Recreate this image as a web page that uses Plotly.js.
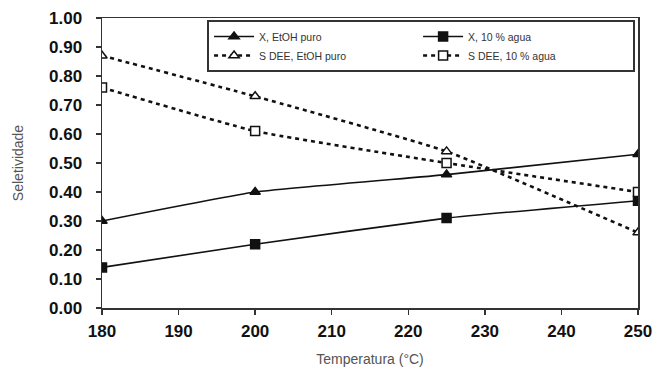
<!DOCTYPE html>
<html>
<head>
<meta charset="utf-8">
<script src="https://cdn.plot.ly/plotly-3.0.1.min.js"></script>
<style>html,body{margin:0;padding:0;background:#fff;}#chart{width:660px;height:372px;}</style>
</head>
<body>
<div id="chart"></div>
<script>
var temperatura = [180, 200, 225, 250];
var xEtohPuro = [0.30, 0.40, 0.46, 0.53];
var x10Agua = [0.14, 0.22, 0.31, 0.37];
var sDeeEtohPuro = [0.87, 0.73, 0.54, 0.26];
var sDee10Agua = [0.76, 0.61, 0.50, 0.40];
var seriesNames = ["X, EtOH puro", "X, 10 % agua", "S DEE, EtOH puro", "S DEE, 10 % agua"];
var xTicks = [180, 190, 200, 210, 220, 230, 240, 250];
var yTicks = [0, 0.1, 0.2, 0.3, 0.4, 0.5, 0.6, 0.7, 0.8, 0.9, 1.0];

function tr(y, name, dashed, symbol, filled) {
  return {
    x: temperatura, y: y, name: name, type: 'scatter', mode: 'lines+markers',
    line: {color: '#111', width: dashed ? 2.6 : 1.6, dash: dashed ? '4px,4px' : 'solid', shape: 'spline', smoothing: 0.4},
    marker: {symbol: symbol, size: 9, color: filled ? '#111' : '#fff',
             line: {color: '#111', width: 1.5}}
  };
}
var data = [
  tr(xEtohPuro, seriesNames[0], false, 'triangle-up', true),
  tr(x10Agua, seriesNames[1], false, 'square', true),
  tr(sDeeEtohPuro, seriesNames[2], true, 'triangle-up', false),
  tr(sDee10Agua, seriesNames[3], true, 'square', false)
];
var tickFont = {size: 17, family: 'Liberation Sans, Arial, sans-serif', color: '#111', weight: 'bold'};
var layout = {
  width: 660, height: 372,
  margin: {l: 102, r: 22, t: 18, b: 64},
  paper_bgcolor: '#fff', plot_bgcolor: '#fff',
  font: {family: 'Liberation Sans, Arial, sans-serif', color: '#111'},
  showlegend: true,
  legend: {
    orientation: 'h', x: 0.196, y: 0.993, xanchor: 'left', yanchor: 'top',
    entrywidth: 0.39, entrywidthmode: 'fraction',
    bgcolor: '#fff', bordercolor: '#333', borderwidth: 2,
    font: {size: 10.5, color: '#333'}, traceorder: 'normal',
    tracegroupgap: 0, itemwidth: 40
  },
  xaxis: {
    range: [180, 250], tickvals: xTicks, ticktext: xTicks.map(String),
    showgrid: false, zeroline: false, showline: true, linecolor: '#333', linewidth: 1.5,
    mirror: true, ticks: 'outside', ticklen: 5, tickcolor: '#333', tickwidth: 1.5,
    ticklabelstandoff: 2,
    tickfont: tickFont,
    title: {text: 'Temperatura (°C)', font: {size: 14, color: '#555'}, standoff: 14}
  },
  yaxis: {
    range: [0, 1.0], tickvals: yTicks, ticktext: yTicks.map(function(v){return v.toFixed(2);}),
    showgrid: false, zeroline: false, showline: true, linecolor: '#333', linewidth: 1.5,
    mirror: true, ticks: 'outside', ticklen: 5, tickcolor: '#333', tickwidth: 1.5,
    ticklabelstandoff: 10,
    tickfont: tickFont,
    title: {text: 'Seletividade', font: {size: 14, color: '#555'}, standoff: 22}
  }
};
Plotly.newPlot('chart', data, layout, {displayModeBar: false, staticPlot: true});
</script>
</body>
</html>
